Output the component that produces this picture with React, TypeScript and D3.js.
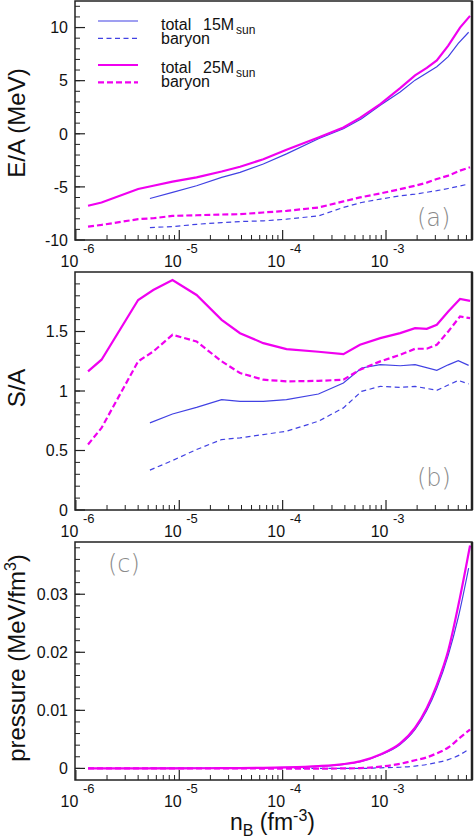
import React from 'react';
import * as d3 from 'd3';

// ---- data ----
const nB25 = [1.31e-6, 1.77e-6, 4.0e-6, 5.6e-6, 8.6e-6, 1.47e-5, 2.57e-5, 3.87e-5, 6.5e-5, 1.09e-4, 2.22e-4, 3.87e-4, 5.6e-4, 8.8e-4, 1.37e-3, 1.91e-3, 2.48e-3, 3.1e-3, 4.0e-3, 5.2e-3, 6.5e-3];
const eTot25 = [-6.78, -6.47, -5.2, -4.89, -4.51, -4.1, -3.55, -3.1, -2.4, -1.5, -0.35, 0.6, 1.5, 2.8, 4.3, 5.5, 6.2, 6.9, 8.3, 10.0, 11.1];
const eBar25 = [-8.74, -8.58, -8.04, -7.95, -7.73, -7.67, -7.6, -7.57, -7.41, -7.26, -6.94, -6.37, -5.99, -5.62, -5.21, -4.89, -4.6, -4.26, -3.94, -3.47, -3.15];
const sTot25 = [1.165, 1.263, 1.765, 1.849, 1.933, 1.807, 1.598, 1.486, 1.402, 1.352, 1.33, 1.31, 1.388, 1.444, 1.486, 1.528, 1.522, 1.556, 1.668, 1.774, 1.757];
const sBar25 = [0.55, 0.69, 1.249, 1.332, 1.472, 1.416, 1.249, 1.151, 1.095, 1.081, 1.085, 1.095, 1.179, 1.249, 1.304, 1.355, 1.355, 1.388, 1.5, 1.626, 1.612];
const pTot25 = [0, 0, 0, 0, 0.00001, 0.00002, 0.00004, 0.00006, 0.0001, 0.00018, 0.0004, 0.00075, 0.0012, 0.0024, 0.0043, 0.007, 0.0104, 0.0144, 0.0203, 0.0295, 0.0384];
const pBar25 = [0, 0, 0, 0, 0, 0, 0, 0, -0.00003, -0.00005, -0.00005, 0, 0.00005, 0.0003, 0.0008, 0.0014, 0.0019, 0.0026, 0.0036, 0.0053, 0.0067];

const nB15 = [5.2e-6, 8.6e-6, 1.47e-5, 2.57e-5, 3.87e-5, 6.5e-5, 1.09e-4, 2.22e-4, 3.87e-4, 5.8e-4, 8.8e-4, 1.37e-3, 1.91e-3, 3.1e-3, 4.0e-3, 5.0e-3, 6.3e-3];
const eTot15 = [-6.09, -5.52, -4.89, -4.1, -3.63, -2.84, -1.89, -0.47, 0.47, 1.42, 2.68, 3.94, 5.05, 6.31, 7.26, 8.52, 9.56];
const eBar15 = [-8.83, -8.74, -8.52, -8.36, -8.26, -8.2, -8.04, -7.73, -6.94, -6.47, -6.15, -5.84, -5.68, -5.36, -5.15, -4.95, -4.73];
const sTot15 = [0.732, 0.807, 0.863, 0.927, 0.913, 0.913, 0.927, 0.975, 1.067, 1.193, 1.221, 1.212, 1.221, 1.173, 1.22, 1.254, 1.215];
const sBar15 = [0.335, 0.416, 0.508, 0.592, 0.606, 0.634, 0.662, 0.746, 0.858, 0.997, 1.039, 1.031, 1.039, 1.006, 1.05, 1.089, 1.059];
const pTot15 = [0, 0.00001, 0.00002, 0.00003, 0.00005, 0.00009, 0.00016, 0.00035, 0.0007, 0.0012, 0.0023, 0.0041, 0.0067, 0.0138, 0.0195, 0.026, 0.0345];
const pBar15 = [0, 0, 0, 0, 0, 0, 0, 0, 0, 0, 0.0001, 0.0002, 0.0004, 0.001, 0.0015, 0.0022, 0.0033];

const xTickExps = [-6, -5, -4, -3];
const yTicksA = [-10, -5, 0, 5, 10];
const yTicksB = [0, 0.5, 1, 1.5];
const yTicksC = [0, 0.01, 0.02, 0.03];

const BLUE = '#4141e3';
const MAG = '#f000f0';
const FONT = 'Liberation Sans, Arial, Helvetica, sans-serif';

const W = 474;
const H = 838;
const X0 = 75;
const X1 = 472;
const XMIN = 0.98e-6;
const XMAX = 6.79e-3;

const x = d3.scaleLog().domain([XMIN, XMAX]).range([X0, X1]);

type Panel = {
  id: string;
  top: number;
  bottom: number;
  domain: [number, number];
  major: number[];
  minorStep: number;
  letter: string;
  letterPos: [number, number];
  smooth: boolean;
  s15: [number[], number[]];
  s25: [number[], number[]];
};

const panels: Panel[] = [
  { id: 'a', top: 1, bottom: 240, domain: [-10, 12.5], major: yTicksA, minorStep: 1, letter: '(a)', letterPos: [417, 226], smooth: false, s15: [eTot15, eBar15], s25: [eTot25, eBar25] },
  { id: 'b', top: 272, bottom: 510, domain: [0, 2], major: yTicksB, minorStep: 0.1, letter: '(b)', letterPos: [417, 486], smooth: false, s15: [sTot15, sBar15], s25: [sTot25, sBar25] },
  { id: 'c', top: 542, bottom: 780, domain: [-0.002, 0.039], major: yTicksC, minorStep: 0.002, letter: '(c)', letterPos: [108, 572], smooth: true, s15: [pTot15, pBar15], s25: [pTot25, pBar25] },
];

function PanelView({ p }: { p: Panel }) {
  const y = d3.scaleLinear().domain(p.domain).range([p.bottom, p.top]);
  const mk = (n: number[], v: number[]) => {
    const g = d3.line<number>().x((_, i) => x(n[i])).y((d) => y(d));
    if (p.smooth) g.curve(d3.curveMonotoneX);
    return g(v) || '';
  };
  const minorY: number[] = [];
  for (let v = p.domain[0]; v < p.domain[1] - 1e-9; v += p.minorStep) {
    const r = Math.round(v / p.minorStep) * p.minorStep;
    if (r > p.domain[0] + 1e-9) minorY.push(r);
  }
  const minorX: number[] = [];
  for (let e = -7; e <= -3; e++) {
    for (let k = 2; k <= 9; k++) {
      const v = k * Math.pow(10, e);
      if (v > XMIN && v < XMAX) minorX.push(v);
    }
  }
  const clipId = 'clip-' + p.id;
  return (
    <g>
      <defs>
        <clipPath id={clipId}>
          <rect x={X0} y={p.top} width={X1 - X0} height={p.bottom - p.top} />
        </clipPath>
      </defs>
      <g clipPath={`url(#${clipId})`}>
        <path d={mk(nB15, p.s15[1])} fill="none" stroke={BLUE} strokeWidth={1.2} strokeDasharray="5,3.5" />
        <path d={mk(nB15, p.s15[0])} fill="none" stroke={BLUE} strokeWidth={1.2} />
        <path d={mk(nB25, p.s25[1])} fill="none" stroke={MAG} strokeWidth={2.2} strokeDasharray="6,3" />
        <path d={mk(nB25, p.s25[0])} fill="none" stroke={MAG} strokeWidth={2.2} />
      </g>
      {minorY.map((v, i) => (
        <line key={'my' + i} x1={X0} x2={X0 + 5} y1={y(v)} y2={y(v)} stroke="#222" strokeWidth={1} />
      ))}
      {p.major.map((v, i) => (
        <g key={'My' + i}>
          <line x1={X0} x2={X0 + 10} y1={y(v)} y2={y(v)} stroke="#222" strokeWidth={1.2} />
          <text x={68} y={y(v)} dy="0.36em" textAnchor="end" fontSize={16} fontFamily={FONT} fill="#111">
            {String(v)}
          </text>
        </g>
      ))}
      {minorX.map((v, i) => (
        <line key={'mx' + i} x1={x(v)} x2={x(v)} y1={p.bottom} y2={p.bottom - 5} stroke="#222" strokeWidth={1} />
      ))}
      {xTickExps.map((e) => {
        const px = x(Math.pow(10, e));
        return (
          <g key={'Mx' + e}>
            <line x1={px} x2={px} y1={p.bottom} y2={p.bottom - 10} stroke="#222" strokeWidth={1.2} />
            <text x={px + 2.5} y={p.bottom + 26.5} textAnchor="end" fontSize={16} fontFamily={FONT} fill="#111">10</text>
            <text x={px + 7} y={p.bottom + 13} textAnchor="start" fontSize={13} fontFamily={FONT} fill="#111">{String(e)}</text>
          </g>
        );
      })}
      <rect x={X0} y={p.top} width={X1 - X0} height={p.bottom - p.top} fill="none" stroke="#222" strokeWidth={1.5} />
      <line x1={X1} x2={X1} y1={p.top} y2={p.bottom} stroke="#222" strokeWidth={2.5} />
      <text x={p.letterPos[0]} y={p.letterPos[1]} fontSize={24} fontFamily="DejaVu Sans, sans-serif" fontWeight={200} fill="#8a8a8a">
        {p.letter}
      </text>
    </g>
  );
}

export default function App() {
  const legendRows = [
    { y: 21, color: BLUE, w: 1.2, dash: undefined as string | undefined },
    { y: 38.3, color: BLUE, w: 1.2, dash: '5,3.5' },
    { y: 65, color: MAG, w: 2.2, dash: undefined },
    { y: 82.3, color: MAG, w: 2.2, dash: '6,3' },
  ];
  return (
    <svg width={W} height={H} style={{ position: 'absolute', left: 0, top: 0, display: 'block', background: '#fff' }}>
      <rect x={0} y={0} width={W} height={H} fill="#fff" />
      {panels.map((p) => (
        <PanelView key={p.id} p={p} />
      ))}
      <text transform="translate(25,123) rotate(-90)" textAnchor="middle" fontSize={24} fontFamily={FONT} fill="#111">E/A (MeV)</text>
      <text transform="translate(25,388) rotate(-90)" textAnchor="middle" fontSize={24} fontFamily={FONT} fill="#111">S/A</text>
      <text transform="translate(25,658) rotate(-90)" textAnchor="middle" fontSize={24} fontFamily={FONT} fill="#111">
        pressure (MeV/fm<tspan dy="-9" fontSize={16}>3</tspan><tspan dy="9">)</tspan>
      </text>
      <text x={272.5} y={830} textAnchor="middle" fontSize={23} fontFamily={FONT} fill="#111">
        n<tspan dy="6" fontSize={16}>B</tspan><tspan dy="-6"> (fm</tspan><tspan dy="-9" fontSize={16}>-3</tspan><tspan dy="9">)</tspan>
      </text>
      {legendRows.map((r, i) => (
        <line key={'lg' + i} x1={98} x2={138} y1={r.y} y2={r.y} stroke={r.color} strokeWidth={r.w} strokeDasharray={r.dash} />
      ))}
      <text x={161} y={30} fontSize={16} fontFamily={FONT} fill="#111">
        total<tspan x={203}>15M</tspan><tspan x={236} dy="4" fontSize={12}>sun</tspan>
        <tspan x={161} dy="10.3">baryon</tspan>
      </text>
      <text x={161} y={72.7} fontSize={16} fontFamily={FONT} fill="#111">
        total<tspan x={203}>25M</tspan><tspan x={236} dy="4" fontSize={12}>sun</tspan>
        <tspan x={161} dy="10">baryon</tspan>
      </text>
    </svg>
  );
}
